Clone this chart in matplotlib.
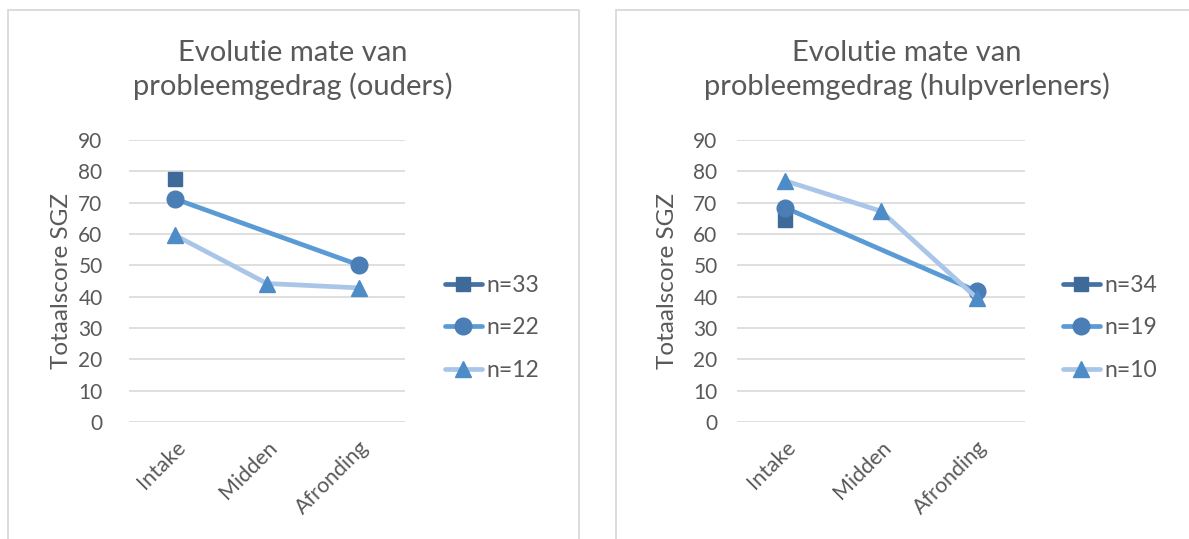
import matplotlib
matplotlib.use("Agg")
import matplotlib.pyplot as plt
import numpy as np
from matplotlib.patches import Rectangle

categories = ["Intake", "Midden", "Afronding"]

ouders_labels = ["n=33", "n=22", "n=12"]
ouders_n33 = [77.6, np.nan, np.nan]
ouders_n22 = [71.2, np.nan, 50.1]
ouders_n12 = [59.6, 44.2, 42.8]

hulp_labels = ["n=34", "n=19", "n=10"]
hulp_n34 = [64.5, np.nan, np.nan]
hulp_n19 = [68.4, np.nan, 41.7]
hulp_n10 = [77.0, 67.3, 39.5]

titles = ["Evolutie mate van\nprobleemgedrag (ouders)",
          "Evolutie mate van\nprobleemgedrag (hulpverleners)"]
ylabel = "Totaalscore SGZ"
yticks = [0, 10, 20, 30, 40, 50, 60, 70, 80, 90]

line_colors = ["#4472A4", "#5B9BD5", "#A9C5E8"]
marker_colors = ["#3D6A98", "#4A7EB5", "#4E8CC8"]
markers = ["s", "o", "^"]
msizes = [10, 12, 12]

FONT = "Lato"
TXT = "#595959"

W, H = 1189, 539
fig = plt.figure(figsize=(W / 100, H / 100), dpi=100)

# chart frames
for x0, x1 in [(8, 579), (616, 1200)]:
    fig.patches.append(Rectangle((x0 / W, -0.1), (x1 - x0) / W, (H - 9.5) / H + 0.1,
                                 transform=fig.transFigure, fill=False,
                                 edgecolor="#D9D9D9", lw=1.3))

panels = [
    dict(ax=(129, 140, 405, 422), data=[ouders_n33, ouders_n22, ouders_n12],
         labels=ouders_labels, title=titles[0], tcx=293, ylx=61, pad=19,
         leg=(445, 328)),
    dict(ax=(737, 140, 1025, 422), data=[hulp_n34, hulp_n19, hulp_n10],
         labels=hulp_labels, title=titles[1], tcx=907, ylx=667, pad=14,
         leg=(1063, 328)),
]

for p in panels:
    l, t, r, b = p["ax"]
    ax = fig.add_axes([l / W, (H - b) / H, (r - l) / W, (b - t) / H])
    x = np.arange(len(categories))
    handles = []
    for i, vals in enumerate(p["data"]):
        v = np.array(vals, dtype=float)
        m = ~np.isnan(v)
        h, = ax.plot(x[m], v[m], color=line_colors[i], lw=3.4,
                     marker=markers[i], markersize=msizes[i],
                     markerfacecolor=marker_colors[i],
                     markeredgecolor=marker_colors[i],
                     solid_capstyle="round", zorder=3 + i, clip_on=False,
                     label=p["labels"][i])
        handles.append(h)
    ax.set_xlim(-0.5, 2.5)
    ax.set_ylim(0, 90)
    ax.set_yticks(yticks)
    ax.yaxis.grid(True, color="#D9D9D9", lw=1.2)
    ax.set_axisbelow(True)
    for s in ax.spines.values():
        s.set_visible(False)
    ax.set_xticks(x)
    ax.set_xticklabels(categories, rotation=45, ha="right", va="top",
                       rotation_mode="anchor", fontsize=15.5, color=TXT,
                       family=FONT)
    ax.tick_params(axis="x", length=0, pad=11)
    ax.tick_params(axis="y", length=0, pad=p["pad"], labelsize=15,
                   labelcolor=TXT)
    for lab in ax.get_yticklabels():
        lab.set_family(FONT)
    ax.set_facecolor("none")
    fig.text(p["ylx"] / W, 1 - 281 / H, ylabel, rotation=90, ha="center",
             va="center", fontsize=17.5, color=TXT, family=FONT)
    fig.text(p["tcx"] / W, 1 - 70 / H, p["title"], ha="center", va="center",
             fontsize=21, color=TXT, family=FONT, linespacing=1.3)
    lx, ly = p["leg"]
    leg = fig.legend(handles=handles, loc="center left",
                     bbox_to_anchor=(lx / W, 1 - ly / H), frameon=False,
                     labelcolor=TXT, handlelength=1.6,
                     handletextpad=0.2, labelspacing=0.92, borderpad=0,
                     borderaxespad=0, prop={"family": FONT, "size": 16.5})

fig.savefig("out.png", dpi=100)
